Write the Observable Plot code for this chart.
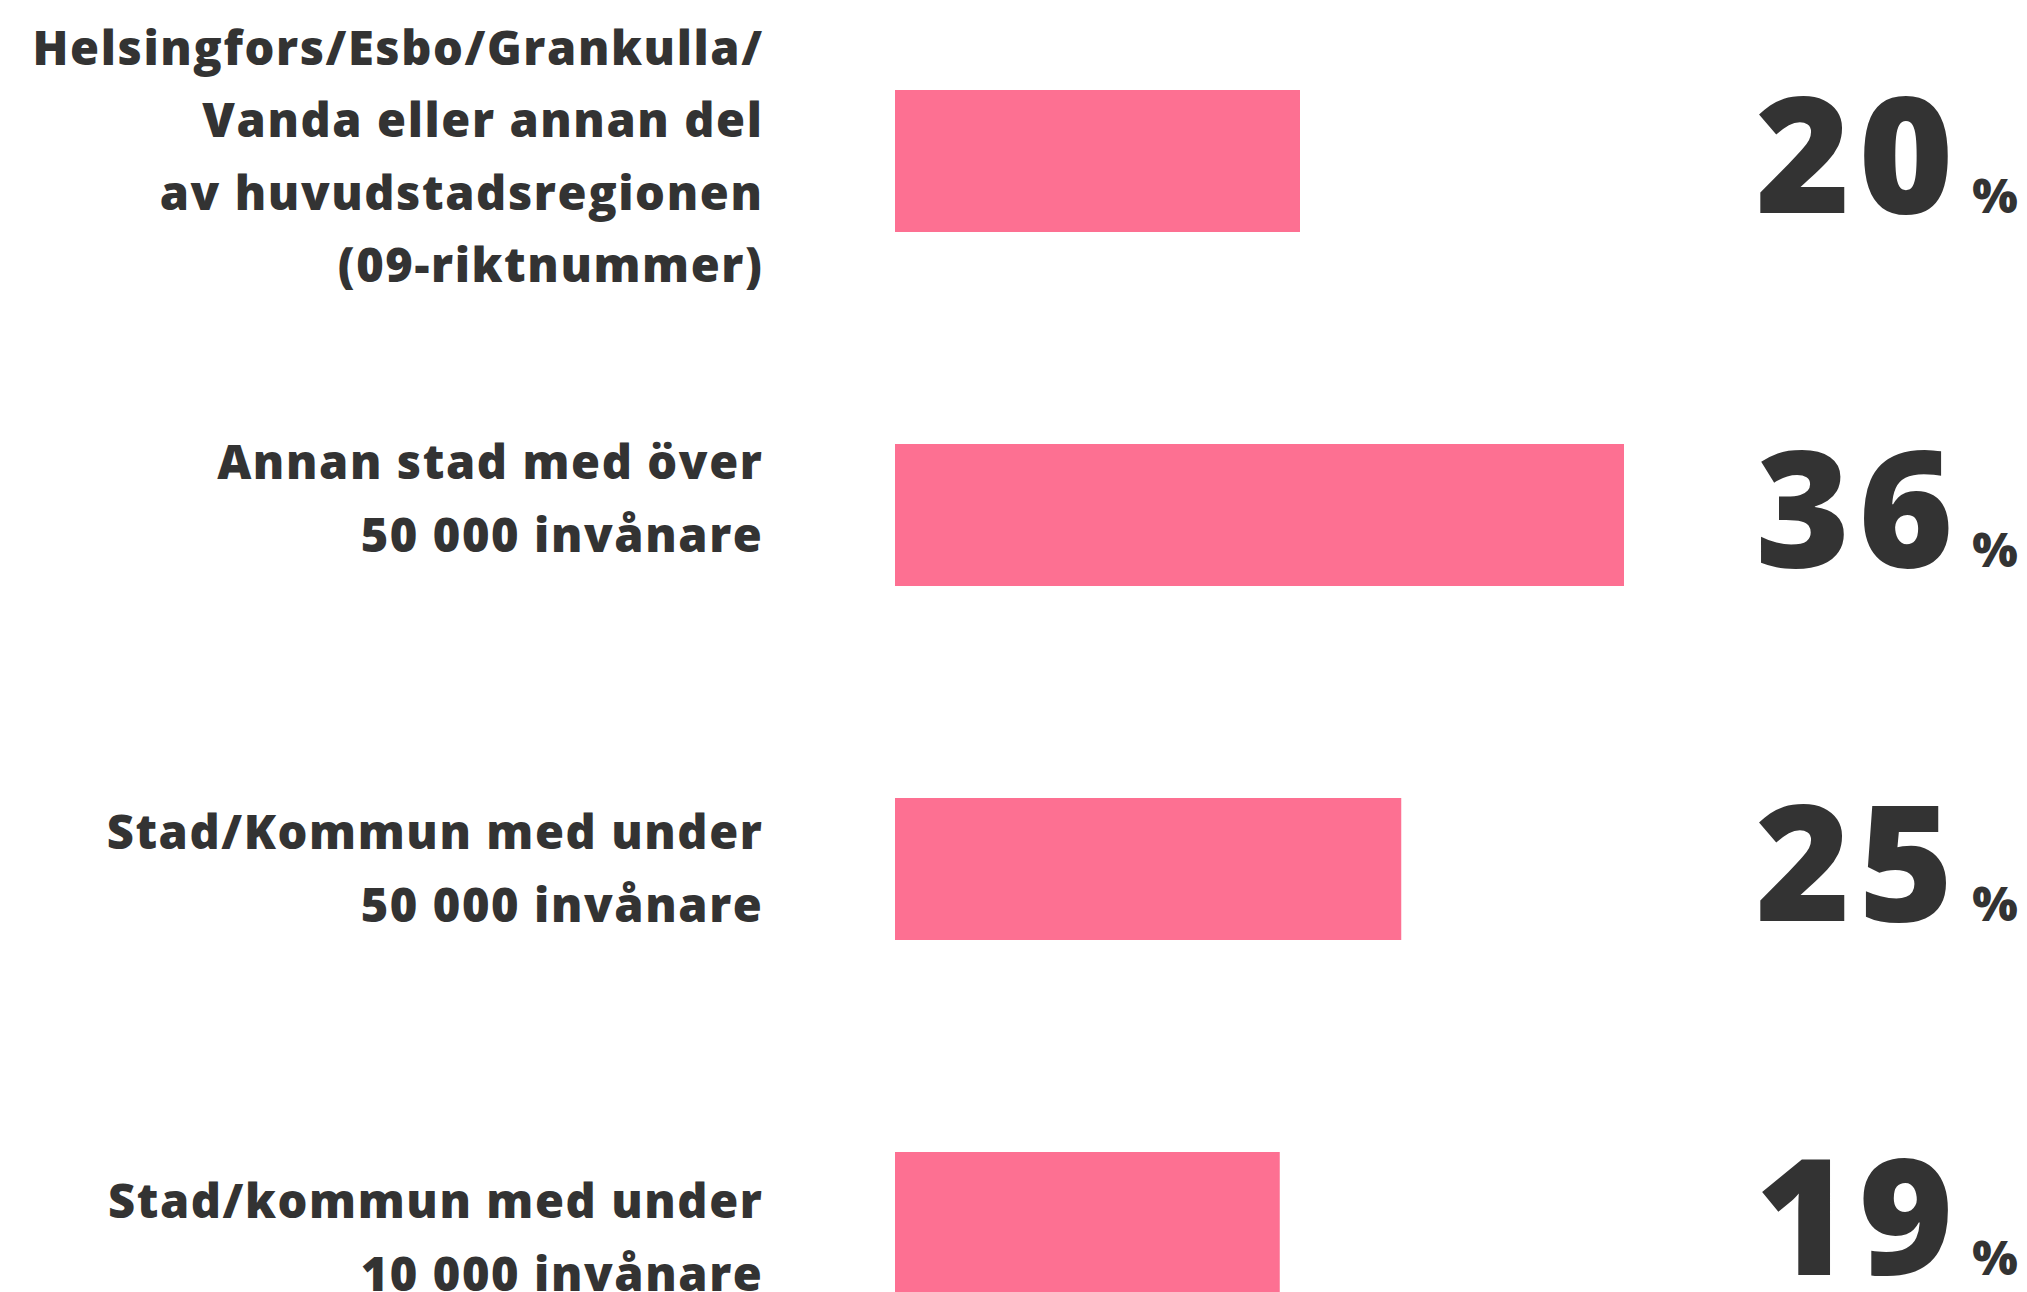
<!DOCTYPE html>
<html><head><meta charset="utf-8">
<script src="https://cdn.jsdelivr.net/npm/d3@7"></script>
<script src="https://cdn.jsdelivr.net/npm/@observablehq/plot@0.6"></script>
<style>html,body{margin:0;padding:0;background:#fff;overflow:hidden}</style>
</head><body><div id="chart"></div>
<script>
const categories = [
  "Helsingfors/Esbo/Grankulla/\nVanda eller annan del\nav huvudstadsregionen\n(09-riktnummer)",
  "Annan stad med över\n50 000 invånare",
  "Stad/Kommun med under\n50 000 invånare",
  "Stad/kommun med under\n10 000 invånare"
];
const values = [20, 36, 25, 19];
const unit = "%";

const data = categories.map((c, i) => ({category: c, value: values[i]}));

// vertical nudges of each label block (styling only)
const labelNudge = [-11, -23, -7, 8];

const plot = Plot.plot({
  width: 2027,
  height: 1292,
  margin: 0,
  style: {fontFamily: "'Open Sans', sans-serif", background: "#fff", color: "#333", overflow: "hidden"},
  x: {domain: [0, 36], range: [895, 1624], axis: null},
  y: {domain: categories, range: [89, 1295], paddingInner: 0.6, paddingOuter: 0, axis: null},
  marks: [
    Plot.barX(data, {x: "value", y: "category", fill: "#fd7092"}),
    ...categories.map((c, i) => Plot.text(data.filter(d => d.category === c), {
      y: "category", text: "category", frameAnchor: "left", textAnchor: "end", dx: 763, dy: labelNudge[i],
      fontSize: 47, fontWeight: 800, lineHeight: 1.54, fill: "#333"})),
    Plot.text(data, {y: "category", text: d => String(d.value), frameAnchor: "left", textAnchor: "start", dx: 1755, dy: 0,
      fontSize: 162, fontWeight: 800, fill: "#333"})
  ]
});
document.getElementById("chart").appendChild(plot);

const groups = plot.querySelectorAll("g[aria-label='text']");
for (let i = 0; i < groups.length - 1; i++) groups[i].setAttribute("letter-spacing", "1.6");
const numGroup = groups[groups.length - 1];
numGroup.setAttribute("letter-spacing", "8");
numGroup.querySelectorAll("text").forEach(t => {
  const ts = document.createElementNS("http://www.w3.org/2000/svg", "tspan");
  ts.setAttribute("dx", "11");
  ts.setAttribute("font-size", "48");
  ts.setAttribute("letter-spacing", "0");
  ts.textContent = unit;
  t.appendChild(ts);
});
</script>
</body></html>
